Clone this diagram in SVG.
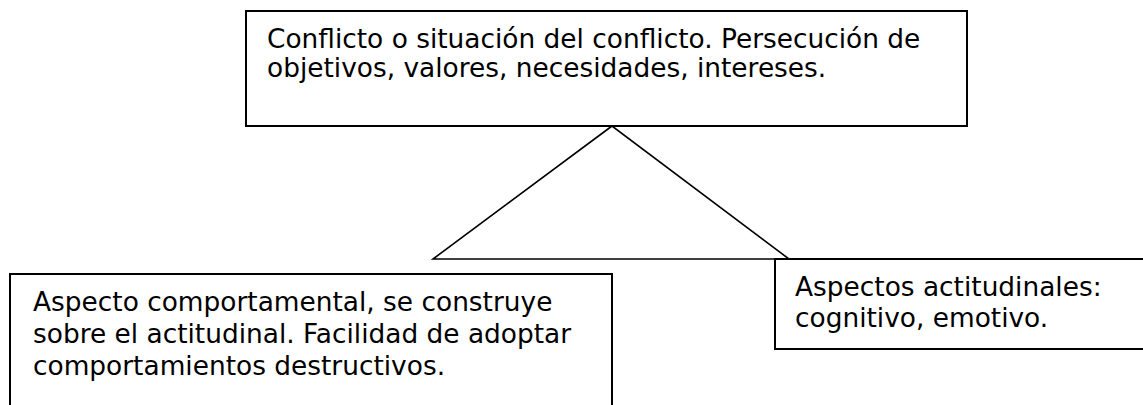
<svg xmlns="http://www.w3.org/2000/svg" width="1143" height="405" viewBox="0 0 1143 405">
<style>
.box{fill:#fff;stroke:#000;stroke-width:2}
.lbl{font-family:"DejaVu Sans","Verdana",sans-serif;font-size:26.4px;fill:#000}
.conn{fill:none;stroke:#000;stroke-width:1.6;stroke-linejoin:miter}
</style>
<rect width="1143" height="405" fill="#fff"/>
<g id="connectors">
<polygon class="conn" points="612,126 433,259 789,259"/>
</g>
<g id="node-conflicto">
<rect class="box" x="246" y="11" width="721" height="115"/>
<text class="lbl" x="267" y="48">Conflicto o situación del conflicto. Persecución de</text>
<text class="lbl" x="267" y="77">objetivos, valores, necesidades, intereses.</text>
</g>
<g id="node-comportamental">
<rect class="box" x="10" y="274" width="602" height="160"/>
<text class="lbl" x="33" y="311">Aspecto comportamental, se construye</text>
<text class="lbl" x="33" y="343">sobre el actitudinal. Facilidad de adoptar</text>
<text class="lbl" x="33" y="375">comportamientos destructivos.</text>
</g>
<g id="node-actitudinales">
<rect class="box" x="775" y="259" width="400" height="90"/>
<text class="lbl" x="795" y="296">Aspectos actitudinales:</text>
<text class="lbl" x="795" y="327">cognitivo, emotivo.</text>
</g>
</svg>
